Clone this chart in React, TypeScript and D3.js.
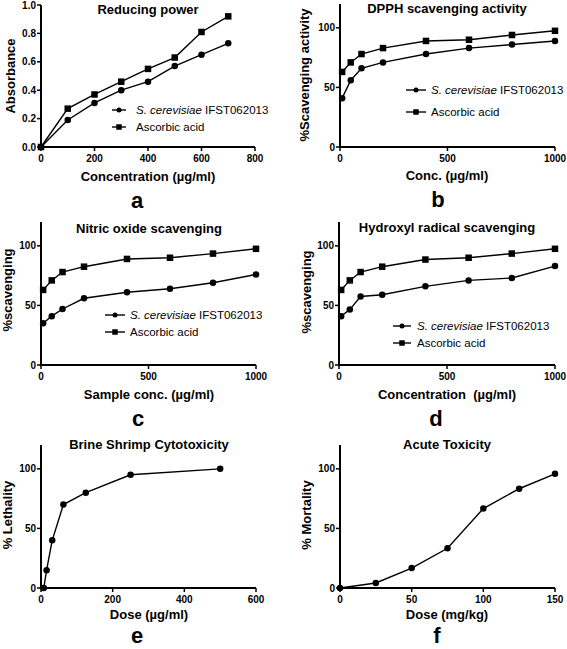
import React from "react";
import * as d3 from "d3";

// ---------- Data ----------
const concA = [0, 100, 200, 300, 400, 500, 600, 700];
const reducingSC = [0, 0.19, 0.31, 0.4, 0.46, 0.57, 0.65, 0.73];
const reducingAA = [0, 0.27, 0.37, 0.46, 0.55, 0.63, 0.81, 0.92];

const concB = [10, 50, 100, 200, 400, 600, 800, 1000];
const dpphSC = [41, 56, 66, 71, 78, 83, 86, 89];
const dpphAA = [63, 71, 78, 83, 89, 90, 94, 97.5];

const nitricSC = [35, 41, 47, 56, 61, 64, 69, 76];
const nitricAA = [63, 71, 78, 82.5, 89, 90, 93.5, 97.5];

const hydroxylSC = [41, 46.5, 57.5, 59, 66, 71, 73, 83];
const hydroxylAA = [63, 71, 78, 82.5, 88.5, 90, 93.5, 97.5];

const doseE = [7.8, 15.6, 31.25, 62.5, 125, 250, 500];
const lethality = [0, 15, 40, 70, 80, 95, 100];

const doseF = [0, 25, 50, 75, 100, 125, 150];
const mortality = [0, 4.2, 16.7, 33.3, 66.7, 83.3, 95.8];

const ticksA_x = [0, 200, 400, 600, 800];
const ticksA_y = [0, 0.2, 0.4, 0.6, 0.8, 1.0];
const ticks1000 = [0, 500, 1000];
const ticks100 = [0, 50, 100];
const ticksE_x = [0, 200, 400, 600];
const ticksF_x = [0, 50, 100, 150];

const legendSC = "S. cerevisiae";
const legendSCsuffix = " IFST062013";
const legendAA = "Ascorbic acid";

const FONT = "'Liberation Sans', Arial, Helvetica, sans-serif";

type Series = { x: number[]; y: number[]; marker: "circle" | "square" };

type PanelProps = {
  left: number; right: number; top: number; bottom: number;
  xDomain: [number, number]; yDomain: [number, number];
  xTicks: number[]; yTicks: number[]; yFmt?: (v: number) => string;
  title: string; titleX: number; titleY: number;
  xLabel: string; xLabelX: number; xLabelY: number;
  yLabel: string; yLabelX: number; yLabelY: number;
  letter: string; letterX: number; letterY: number;
  series: Series[];
  legend?: { x0: number; x1: number; tx: number; y1: number; y2: number };
};

function Marker({ kind, x, y, size }: { kind: string; x: number; y: number; size: number }) {
  if (kind === "circle") return <circle cx={x} cy={y} r={size / 2} fill="#000" />;
  return <rect x={x - size / 2} y={y - size / 2} width={size} height={size} fill="#000" />;
}

function Panel(p: PanelProps) {
  const xs = d3.scaleLinear().domain(p.xDomain).range([p.left, p.right]);
  const ys = d3.scaleLinear().domain(p.yDomain).range([p.bottom, p.top]);
  const line = d3.line<[number, number]>().x((d) => xs(d[0])).y((d) => ys(d[1]));
  const fmt = p.yFmt || ((v: number) => String(v));
  const xEnd = xs(p.xTicks[p.xTicks.length - 1]);
  return (
    <g>
      {/* axes */}
      <line x1={p.left} x2={p.left} y1={p.top} y2={p.bottom + 1} stroke="#000" strokeWidth={2} />
      <line x1={p.left - 1} x2={xEnd} y1={p.bottom} y2={p.bottom} stroke="#000" strokeWidth={2} />
      {p.yTicks.map((t) => (
        <g key={"y" + t}>
          <line x1={p.left - 4} x2={p.left} y1={ys(t)} y2={ys(t)} stroke="#000" strokeWidth={1.5} />
          <text x={p.left - 5} y={ys(t) + 3.5} textAnchor="end" fontSize={10} fontWeight="bold" fontFamily={FONT}>
            {fmt(t)}
          </text>
        </g>
      ))}
      {p.xTicks.map((t) => (
        <g key={"x" + t}>
          <line x1={xs(t)} x2={xs(t)} y1={p.bottom} y2={p.bottom + 4} stroke="#000" strokeWidth={1.5} />
          <text x={xs(t)} y={p.bottom + 15} textAnchor="middle" fontSize={10} fontWeight="bold" fontFamily={FONT}>
            {t}
          </text>
        </g>
      ))}
      {/* series */}
      {p.series.map((s, i) => {
        const pts = s.x.map((x, j) => [x, s.y[j]] as [number, number]);
        return (
          <g key={"s" + i}>
            <path d={line(pts) || ""} fill="none" stroke="#000" strokeWidth={1.4} />
            {pts.map((d, j) => (
              <Marker key={j} kind={s.marker} x={xs(d[0])} y={ys(d[1])} size={6.5} />
            ))}
          </g>
        );
      })}
      {/* legend */}
      {p.legend && (
        <g fontFamily={FONT} fontSize={11.5}>
          {[p.legend.y1, p.legend.y2].map((ly, i) => (
            <g key={"l" + i}>
              <line x1={p.legend!.x0} x2={p.legend!.x1} y1={ly} y2={ly} stroke="#000" strokeWidth={1.4} />
              <Marker kind={i === 0 ? "circle" : "square"} x={(p.legend!.x0 + p.legend!.x1) / 2} y={ly} size={i === 0 ? 5 : 5.5} />
              <text x={p.legend!.tx} y={ly + 4}>
                {i === 0 ? (
                  <>
                    <tspan fontStyle="italic">{legendSC}</tspan>
                    <tspan>{legendSCsuffix}</tspan>
                  </>
                ) : (
                  legendAA
                )}
              </text>
            </g>
          ))}
        </g>
      )}
      {/* labels */}
      <text x={p.titleX} y={p.titleY} textAnchor="middle" fontSize={13} fontWeight="bold" fontFamily={FONT}>
        {p.title}
      </text>
      <text x={p.xLabelX} y={p.xLabelY} textAnchor="middle" fontSize={13} fontWeight="bold" fontFamily={FONT} style={{ whiteSpace: "pre" }}>
        {p.xLabel}
      </text>
      <text
        transform={`translate(${p.yLabelX},${p.yLabelY}) rotate(-90)`}
        textAnchor="middle"
        fontSize={13}
        fontWeight="bold"
        fontFamily={FONT}
      >
        {p.yLabel}
      </text>
      <text x={p.letterX} y={p.letterY} textAnchor="middle" fontSize={22} fontWeight="bold" fontFamily={FONT}>
        {p.letter}
      </text>
    </g>
  );
}

export default function App() {
  const panels: PanelProps[] = [
    {
      left: 41, right: 255, top: 5, bottom: 147, xDomain: [0, 800], yDomain: [0, 1.0],
      xTicks: ticksA_x, yTicks: ticksA_y, yFmt: (v) => v.toFixed(1),
      title: "Reducing power", titleX: 148, titleY: 14,
      xLabel: "Concentration (µg/ml)", xLabelX: 148, xLabelY: 181,
      yLabel: "Absorbance", yLabelX: 14.5, yLabelY: 76,
      letter: "a", letterX: 137, letterY: 208,
      series: [
        { x: concA, y: reducingSC, marker: "circle" },
        { x: concA, y: reducingAA, marker: "square" },
      ],
      legend: { x0: 112, x1: 126, tx: 136, y1: 110, y2: 127 },
    },
    {
      left: 340, right: 555, top: 4, bottom: 147, xDomain: [0, 1000], yDomain: [0, 120],
      xTicks: ticks1000, yTicks: ticks100,
      title: "DPPH scavenging activity", titleX: 447, titleY: 13,
      xLabel: "Conc. (µg/ml)", xLabelX: 447, xLabelY: 180,
      yLabel: "%Scavenging activity", yLabelX: 308.5, yLabelY: 75,
      letter: "b", letterX: 438, letterY: 207,
      series: [
        { x: concB, y: dpphSC, marker: "circle" },
        { x: concB, y: dpphAA, marker: "square" },
      ],
      legend: { x0: 406, x1: 426, tx: 431, y1: 90, y2: 112 },
    },
    {
      left: 41, right: 256, top: 222, bottom: 365, xDomain: [0, 1000], yDomain: [0, 120],
      xTicks: ticks1000, yTicks: ticks100,
      title: "Nitric oxide scavenging", titleX: 149, titleY: 233,
      xLabel: "Sample conc. (µg/ml)", xLabelX: 149, xLabelY: 399,
      yLabel: "%scavenging", yLabelX: 11.5, yLabelY: 290,
      letter: "c", letterX: 138, letterY: 426,
      series: [
        { x: concB, y: nitricSC, marker: "circle" },
        { x: concB, y: nitricAA, marker: "square" },
      ],
      legend: { x0: 105, x1: 125, tx: 130, y1: 315, y2: 332 },
    },
    {
      left: 339, right: 555, top: 222, bottom: 365, xDomain: [0, 1000], yDomain: [0, 120],
      xTicks: ticks1000, yTicks: ticks100,
      title: "Hydroxyl radical scavenging", titleX: 447, titleY: 232,
      xLabel: "Concentration  (µg/ml)", xLabelX: 447, xLabelY: 399,
      yLabel: "%scavenging", yLabelX: 310.5, yLabelY: 292,
      letter: "d", letterX: 436, letterY: 426,
      series: [
        { x: concB, y: hydroxylSC, marker: "circle" },
        { x: concB, y: hydroxylAA, marker: "square" },
      ],
      legend: { x0: 393, x1: 411, tx: 417, y1: 326, y2: 343 },
    },
    {
      left: 41, right: 256, top: 445, bottom: 588, xDomain: [0, 600], yDomain: [0, 120],
      xTicks: ticksE_x, yTicks: ticks100,
      title: "Brine Shrimp Cytotoxicity", titleX: 149, titleY: 449,
      xLabel: "Dose (µg/ml)", xLabelX: 149, xLabelY: 619,
      yLabel: "% Lethality", yLabelX: 11.5, yLabelY: 515,
      letter: "e", letterX: 137, letterY: 643,
      series: [{ x: doseE, y: lethality, marker: "circle" }],
    },
    {
      left: 340, right: 555, top: 445, bottom: 588, xDomain: [0, 150], yDomain: [0, 120],
      xTicks: ticksF_x, yTicks: ticks100,
      title: "Acute Toxicity", titleX: 447, titleY: 449,
      xLabel: "Dose (mg/kg)", xLabelX: 447, xLabelY: 619,
      yLabel: "% Mortality", yLabelX: 310.5, yLabelY: 515,
      letter: "f", letterX: 437, letterY: 643,
      series: [{ x: doseF, y: mortality, marker: "circle" }],
    },
  ];
  return (
    <svg width={567} height={649} style={{ position: "absolute", left: 0, top: 0, background: "#fff" }}>
      <rect width={567} height={649} fill="#fff" />
      {panels.map((p, i) => (
        <Panel key={i} {...p} />
      ))}
    </svg>
  );
}
